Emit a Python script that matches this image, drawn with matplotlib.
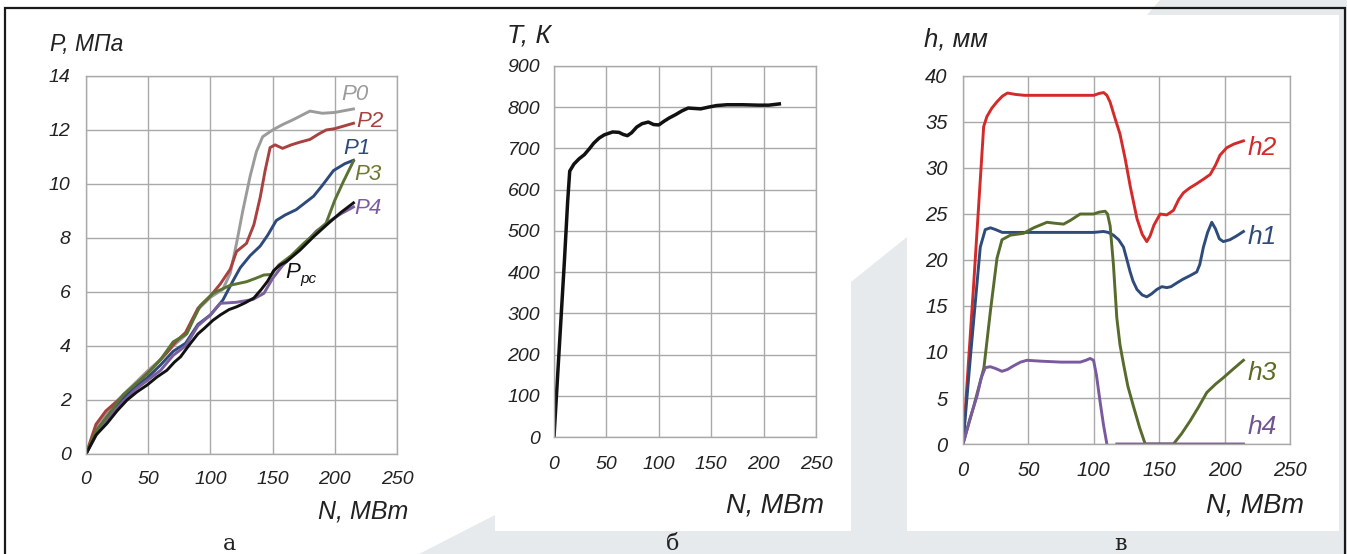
import numpy as np
import matplotlib
matplotlib.use("Agg")
import matplotlib.pyplot as plt
from matplotlib.patches import Polygon

plt.rcParams["font.family"] = ["Liberation Sans", "DejaVu Sans"]
plt.rcParams["font.style"] = "italic"

# --- panel a: pressure vs power ---
n_p0 = [0, 10, 20, 30, 40, 50, 60, 70, 80, 90, 100, 110, 116, 121, 126, 132, 137, 142, 150, 158, 166, 180, 190, 200, 215]
p0 = [0, 1.15, 1.75, 2.2, 2.65, 3.1, 3.5, 4.0, 4.4, 5.35, 5.8, 6.1, 6.7, 7.8, 9.0, 10.3, 11.2, 11.75, 12.0, 12.2, 12.37, 12.7, 12.62, 12.65, 12.78]
n_p2 = [0, 8, 16, 25, 35, 45, 55, 65, 72, 80, 90, 100, 108, 116, 121, 129, 135, 140, 144, 148, 152, 158, 165, 172, 180, 187, 193, 200, 215]
p2 = [0, 1.1, 1.6, 1.95, 2.35, 2.8, 3.25, 3.75, 4.15, 4.5, 5.4, 5.85, 6.3, 6.85, 7.5, 7.8, 8.5, 9.5, 10.5, 11.35, 11.45, 11.32, 11.45, 11.55, 11.65, 11.85, 12.0, 12.05, 12.25]
n_p1 = [0, 10, 20, 30, 40, 50, 60, 70, 80, 90, 100, 110, 118, 124, 132, 140, 146, 153, 160, 169, 176, 183, 190, 199, 208, 215]
p1 = [0, 0.95, 1.55, 2.05, 2.5, 2.85, 3.3, 3.8, 4.1, 4.8, 5.15, 5.7, 6.4, 6.9, 7.35, 7.7, 8.1, 8.65, 8.85, 9.05, 9.3, 9.55, 9.95, 10.5, 10.75, 10.88]
n_p3 = [0, 8, 17, 30, 40, 49, 60, 70, 81, 86, 92, 102, 116, 129, 136, 143, 149, 155, 165, 175, 185, 193, 200, 207, 215]
p3 = [0, 0.85, 1.4, 2.2, 2.6, 2.95, 3.5, 4.15, 4.45, 4.95, 5.5, 5.95, 6.25, 6.38, 6.5, 6.63, 6.65, 7.0, 7.35, 7.8, 8.2, 8.55, 9.4, 10.1, 10.85]
n_p4 = [0, 10, 20, 30, 40, 50, 60, 70, 80, 90, 100, 108, 121, 134, 143, 150, 158, 165, 175, 185, 195, 205, 215]
p4 = [0, 0.85, 1.45, 1.95, 2.4, 2.75, 3.1, 3.65, 4.0, 4.75, 5.15, 5.58, 5.62, 5.72, 5.95, 6.5, 6.98, 7.3, 7.75, 8.25, 8.6, 8.9, 9.15]
n_pc = [0, 8, 17, 25, 33, 41, 49, 57, 65, 71, 76, 84, 90, 95, 102, 108, 115, 121, 128, 135, 141, 146, 151, 156, 161, 172, 183, 195, 205, 215]
p_pc = [0, 0.7, 1.14, 1.6, 2.0, 2.3, 2.55, 2.85, 3.1, 3.4, 3.6, 4.1, 4.45, 4.65, 4.95, 5.15, 5.35, 5.45, 5.6, 5.78, 6.1, 6.4, 6.8, 7.0, 7.12, 7.55, 8.05, 8.55, 8.95, 9.3]

# --- panel b: temperature vs power ---
n_t = [0, 5, 10, 13, 15, 19, 24, 29, 34, 38, 43, 48, 56, 62, 66, 70, 74, 79, 84, 90, 95, 100, 105, 110, 116, 122, 128, 134, 140, 147, 155, 165, 180, 195, 205, 215]
t_k = [0, 215, 430, 570, 645, 662, 675, 685, 700, 713, 725, 733, 740, 739, 734, 731, 738, 752, 760, 764, 758, 757, 766, 774, 782, 791, 798, 797, 796, 800, 804, 806, 806, 805, 805, 808]

# --- panel c: thickness vs power ---
n_h2 = [0, 8, 15.8, 18.3, 22, 26, 30, 34, 40, 47, 60, 80, 100, 104, 107.5, 110, 112.5, 116, 120, 124, 128, 133, 137, 140.5, 143, 146, 150.7, 155.8, 160.9, 165, 168.5, 173, 178.7, 184, 189, 193, 196.5, 201.6, 207, 214.4]
h2 = [0, 17, 34.5, 35.6, 36.5, 37.2, 37.8, 38.15, 38.0, 37.9, 37.9, 37.9, 37.9, 38.1, 38.2, 37.9, 37.15, 35.5, 33.7, 31, 27.9, 24.5, 22.8, 22.0, 22.6, 23.8, 25.0, 24.9, 25.4, 26.6, 27.3, 27.8, 28.3, 28.8, 29.3, 30.3, 31.4, 32.2, 32.6, 32.95]
n_h1 = [0, 6, 13.2, 17, 21, 25, 30, 40, 60, 80, 100, 107.4, 111, 115, 119, 122.7, 125, 127.8, 130, 133, 137, 140.5, 144, 148.2, 152, 155.8, 159, 163.4, 168, 173.6, 178.7, 181, 183.8, 187, 190.2, 193, 196, 199, 204, 209, 214.4]
h1 = [0, 10, 21.4, 23.3, 23.5, 23.3, 23.0, 23.0, 23.0, 23.0, 23.0, 23.1, 23.0, 22.7, 22.2, 21.4, 20.2, 18.7, 17.7, 16.8, 16.2, 16.0, 16.3, 16.8, 17.1, 17.0, 17.1, 17.5, 17.9, 18.3, 18.7, 19.5, 21.4, 23.0, 24.1, 23.4, 22.3, 22.0, 22.2, 22.6, 23.1]
n_h3 = [0, 8, 16, 21, 26, 29.8, 36.2, 46.3, 54, 64.2, 70, 76.9, 82, 89.6, 95, 99.8, 104, 108.7, 110.5, 112.5, 115, 117.6, 120, 122.7, 126, 130.3, 135, 139.3, 150, 160.9, 167, 173.6, 180, 186.4, 193, 199, 207, 214.4]
h3 = [0, 4.0, 8.3, 14.5, 20.2, 22.2, 22.7, 22.9, 23.5, 24.1, 24.0, 23.9, 24.3, 25.0, 25.0, 25.0, 25.2, 25.3, 25.0, 23.7, 19.5, 13.7, 10.8, 8.7, 6.3, 4.1, 1.8, 0, 0, 0, 1.1, 2.5, 4.0, 5.6, 6.5, 7.2, 8.2, 9.1]
n_h4 = [0, 5, 10.7, 14, 17, 20.9, 25, 29.8, 34, 38.7, 44, 48.9, 60, 75, 89.6, 94, 97.2, 99.8, 102, 104.9, 107.5, 110, np.nan, 117.6, 214.4]
h4 = [0, 2.6, 5.2, 7.2, 8.3, 8.4, 8.2, 7.9, 8.1, 8.5, 8.9, 9.1, 9.0, 8.9, 8.9, 9.1, 9.3, 9.1, 7.5, 4.5, 2.0, 0, np.nan, 0, 0]

W, H = 1347, 554
GRID = "#a9a9a9"
TXT = "#222222"
GRAY_BG = "#e6eaed"

fig = plt.figure(figsize=(W / 100, H / 100), dpi=100)

# background decoration in pixel coordinates
bg = fig.add_axes([0, 0, 1, 1], zorder=0)
bg.set_xlim(0, W)
bg.set_ylim(H, 0)
bg.axis("off")
for pts in [
    [(419, 554), (495, 515), (495, 554)],
    [(495, 531), (W, 531), (W, 554), (495, 554)],
    [(851, 282), (907, 237), (907, 554), (851, 554)],
    [(1160, 0), (W, 0), (W, 554), (1339, 554), (1339, 15), (1147, 15)],
]:
    bg.add_patch(Polygon(pts, closed=True, fc=GRAY_BG, ec="none"))
bg.plot([5, 5, 1345, 1345], [H, 8, 8, H], color="#1a1a1a", lw=1.6, solid_joinstyle="miter")


def pix_axes(left, top, right, bottom):
    return fig.add_axes([left / W, 1 - bottom / H, (right - left) / W, (bottom - top) / H], zorder=1)


def style(ax, xmax, ymax, ystep, fs, xpad, ypad):
    ax.set_xlim(0, xmax)
    ax.set_ylim(0, ymax)
    ax.set_xticks(np.arange(0, xmax + 1, 50))
    ax.set_yticks(np.arange(0, ymax + ystep / 2, ystep))
    ax.grid(True, color=GRID, lw=1.0)
    ax.set_axisbelow(True)
    ax.tick_params(axis="x", length=0, labelsize=fs, labelcolor=TXT, pad=xpad)
    ax.tick_params(axis="y", length=0, labelsize=fs, labelcolor=TXT, pad=ypad)
    for lbl in ax.get_xticklabels() + ax.get_yticklabels():
        lbl.set_fontstyle("italic")
    for s in ax.spines.values():
        s.set_color(GRID)
        s.set_linewidth(1.0)


# panel a
ax1 = pix_axes(86, 76, 397, 454)
style(ax1, 250, 14, 2, 14, 12, 11)
lw = 2.1
ax1.plot(n_p0, p0, color="#9b9b9b", lw=lw)
ax1.plot(n_p2, p2, color="#a8413f", lw=lw)
ax1.plot(n_p1, p1, color="#2c4a7c", lw=lw)
ax1.plot(n_p4, p4, color="#7a5f9f", lw=lw)
ax1.plot(n_p3, p3, color="#5a7332", lw=lw)
ax1.plot(n_pc, p_pc, color="#111111", lw=lw)
ax1.text(216, 13.33, "P0", color="#9b9b9b", fontsize=16, ha="center", va="center")
ax1.text(228, 12.33, "P2", color="#a8413f", fontsize=16, ha="center", va="center", clip_on=False)
ax1.text(218, 11.33, "P1", color="#2c4a7c", fontsize=16, ha="center", va="center")
ax1.text(227, 10.37, "P3", color="#6b7a30", fontsize=16, ha="center", va="center", clip_on=False)
ax1.text(227, 9.11, "P4", color="#7a5ca5", fontsize=16, ha="center", va="center", clip_on=False)
ax1.text(166, 6.74, "P", color="#111111", fontsize=16, ha="center", va="center")
ax1.text(179, 6.5, "рс", color="#111111", fontsize=11, ha="center", va="center")

# panel b
ax2 = pix_axes(554, 66, 816, 437)
style(ax2, 250, 900, 100, 14, 14, 10)
ax2.plot(n_t, t_k, color="#111111", lw=2.5)

# panel c
ax3 = pix_axes(963, 76, 1290, 444)
style(ax3, 250, 40, 5, 14.5, 12, 11)
ax3.plot(n_h2, h2, color="#d42a2a", lw=lw)
ax3.plot(n_h1, h1, color="#2e4b7a", lw=lw)
ax3.plot(n_h3, h3, color="#566b2c", lw=lw)
ax3.plot(n_h4, h4, color="#7a5a9e", lw=lw)
for txt, yv, col in [("h2", 32.2, "#d42a2a"), ("h1", 22.5, "#2e4b7a"), ("h3", 7.7, "#5f6b25"), ("h4", 1.9, "#6f5591")]:
    ax3.text(228.5, yv, txt, color=col, fontsize=19, ha="center", va="center", clip_on=False)

# axis titles in pixel coordinates
bg.text(50, 51, "P, МПа", fontsize=16.5, color=TXT, ha="left", va="baseline")
bg.text(507, 42, "T, К", fontsize=19, color=TXT, ha="left", va="baseline")
bg.text(924, 46, "h, мм", fontsize=18.5, color=TXT, ha="left", va="baseline")
bg.text(408, 518, "N, МВт", fontsize=18, color=TXT, ha="right", va="baseline")
bg.text(824, 512, "N, МВт", fontsize=19.5, color=TXT, ha="right", va="baseline")
bg.text(1304, 512, "N, МВт", fontsize=19.5, color=TXT, ha="right", va="baseline")

# panel letters
for x, s in [(229, "а"), (673, "б"), (1120, "в")]:
    bg.text(x, 550, s, fontsize=16, color=TXT, ha="center", va="baseline", family="DejaVu Serif", style="normal")

fig.savefig("out.png", dpi=100)
